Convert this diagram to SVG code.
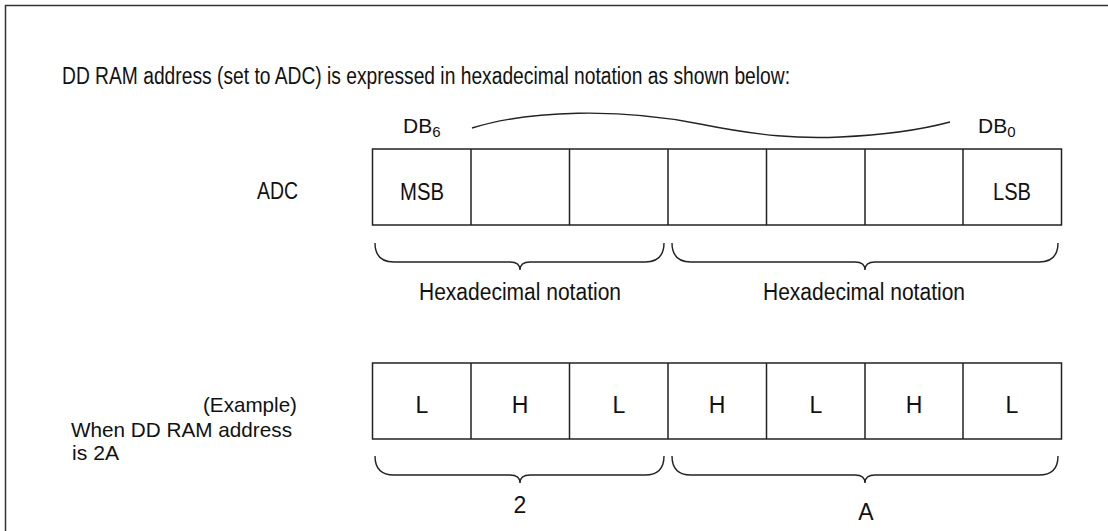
<svg xmlns="http://www.w3.org/2000/svg" width="1108" height="531" viewBox="0 0 1108 531">
<style>
text{font-family:"Liberation Sans",Arial,sans-serif;font-size:23px;fill:#111}
.c{text-anchor:middle}
.s{font-size:21px}
.cell{fill:#fff;stroke:#222;stroke-width:1.5}
.br{fill:none;stroke:#222;stroke-width:1.4}
</style>
<rect width="1108" height="531" fill="#fff"/>
<path d="M5.5,531 V5.5 H1108" fill="none" stroke="#333" stroke-width="1.5"/>
<text x="62" y="84" textLength="728" lengthAdjust="spacingAndGlyphs">DD RAM address (set to ADC) is expressed in hexadecimal notation as shown below:</text>
<g id="bits-label">
<text class="s" x="403" y="133">DB<tspan dy="4" font-size="15">6</tspan></text>
<text class="s" x="978" y="133">DB<tspan dy="4" font-size="15">0</tspan></text>
<path class="br" d="M472,128 C530,110 620,108 700,124 C760,136 800,139 840,137 C885,135 920,130 950,122"/>
</g>
<g id="adc-label"><text x="298" y="199" text-anchor="end" textLength="41" lengthAdjust="spacingAndGlyphs">ADC</text></g>
<g id="adc-row">
<rect class="cell" x="372.5" y="149" width="689" height="76"/>
<path class="cell" d="M471,149V225M569.5,149V225M668,149V225M766.5,149V225M865,149V225M963,149V225"/>
<text x="400" y="200" textLength="44" lengthAdjust="spacingAndGlyphs">MSB</text>
<text x="993" y="200" textLength="38" lengthAdjust="spacingAndGlyphs">LSB</text>
</g>
<g id="connectors">
<path class="br" d="M375,243 Q375,262 394,262 H510 Q520,262 520,270 Q520,262 530,262 H645 Q664,262 664,243"/>
<path class="br" d="M672,243 Q672,262 691,262 H855 Q865,262 865,270 Q865,262 875,262 H1039 Q1058,262 1058,243"/>
<path class="br" d="M375,456 Q375,475 394,475 H510 Q520,475 520,483 Q520,475 530,475 H645 Q664,475 664,456"/>
<path class="br" d="M672,456 Q672,475 691,475 H855 Q865,475 865,483 Q865,475 875,475 H1039 Q1058,475 1058,456"/>
</g>
<g id="hex-labels">
<text x="419" y="300" textLength="202" lengthAdjust="spacingAndGlyphs">Hexadecimal notation</text>
<text x="763" y="300" textLength="202" lengthAdjust="spacingAndGlyphs">Hexadecimal notation</text>
</g>
<g id="example-label">
<text class="s" x="203" y="412" textLength="94" lengthAdjust="spacingAndGlyphs">(Example)</text>
<text class="s" x="71" y="437" textLength="221" lengthAdjust="spacingAndGlyphs">When DD RAM address</text>
<text class="s" x="72" y="460" textLength="47" lengthAdjust="spacingAndGlyphs">is 2A</text>
</g>
<g id="example-row">
<rect class="cell" x="372.5" y="363" width="689" height="76"/>
<path class="cell" d="M471,363V439M569.5,363V439M668,363V439M766.5,363V439M865,363V439M963,363V439"/>
<text class="c" x="422" y="413">L</text>
<text class="c" x="520" y="413">H</text>
<text class="c" x="619" y="413">L</text>
<text class="c" x="717" y="413">H</text>
<text class="c" x="816" y="413">L</text>
<text class="c" x="914" y="413">H</text>
<text class="c" x="1012" y="413">L</text>
</g>
<g id="hex-values">
<text class="c" x="520" y="513">2</text>
<text class="c" x="866" y="520">A</text>
</g>
</svg>
